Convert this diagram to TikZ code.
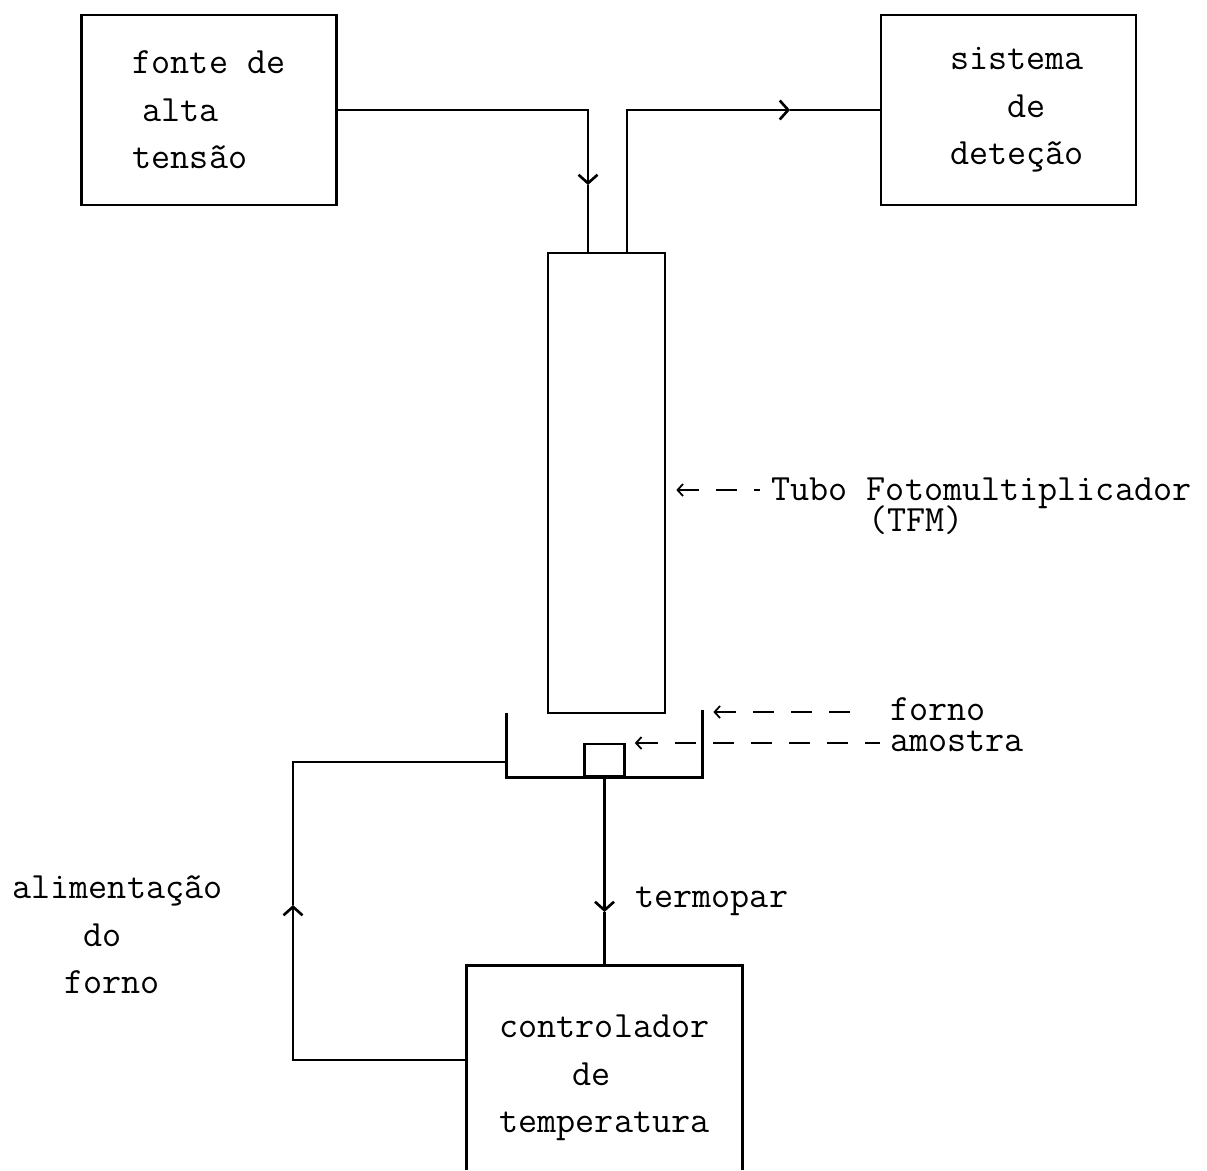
\documentclass[tikz,border=0pt]{standalone}
\usepackage{fontspec}
\usetikzlibrary{arrows.meta}
\usetikzlibrary{positioning}

% indent a line by a number of typewriter characters
\newcommand{\indentby}[1]{\hspace*{#1\fontcharwd\font`x}}

\tikzset{
  block/.style={draw, line width=1.5pt, minimum width=5.1cm, minimum height=3.8cm, align=left},
  wire/.style={line width=1.5pt},
  flowtip/.style={wire, -{Straight Barb[length=0.17cm, width=0.38cm]}},
  pointer/.style={{Straight Barb[length=0.11cm, width=0.24cm]}-, line width=1pt, dash pattern=on 0.42cm off 0.34cm},
  tag/.style={inner sep=0pt, anchor=base west}
}

\begin{document}
\begin{tikzpicture}[font=\ttfamily\fontsize{21.1}{27}\selectfont]
		\useasboundingbox (0,0) rectangle (24.14,-23.4);
		
		%High voltage source
		\node[block] (fonte) at (4.18,-2.2) {fonte de\\\indentby{0.5}alta\\tensão};
		
		%Detection system
		\node[block] (sistema) at (20.17,-2.2) {\indentby{0.9}sistema\\\indentby{3.9}de\\\indentby{0.9}deteção};
		
		%Photomultiplier tube
		\node[draw,
		      line width=1.5pt,
		      minimum width=2.34cm,
		      minimum height=9.2cm] (tubo) at (12.13,-9.66){};
		
		%Furnace with sample
		\node[minimum width=3.9cm, minimum height=1.28cm] (forno) at (12.09,-14.9){};
		\draw[wire] (forno.north west) |- (forno.south east) -- ([yshift=0.06cm]forno.north east);
		\node[draw,
		      line width=1.5pt,
		      minimum width=0.8cm,
		      minimum height=0.64cm,
		      anchor=south] (amostra) at (forno.south){};
		
		%Temperature controller (open at the bottom)
		\node[minimum width=5.5cm, minimum height=4.48cm, align=left] (ctrl) at (12.09,-21.56)
		      {controlador\\\indentby{3.8}de\\temperatura};
		\coordinate (bottom) at (0,-23.4);
		\draw[wire] (ctrl.west |- bottom) |- (ctrl.north east) -- (ctrl.east |- bottom);
		
		%Connections
		\coordinate (hvtip) at (11.76,-3.7);
		\draw[flowtip] (fonte.east) -| (hvtip);
		\draw[wire] (hvtip) -- (hvtip |- tubo.north);
		
		\coordinate (sigtip) at (15.8,-2.2);
		\draw[flowtip] ([xshift=0.41cm]tubo.north) |- (sigtip);
		\draw[wire] (sigtip) -- (sistema.west);
		
		\coordinate (tctip) at (12.09,-18.24);
		\draw[flowtip] (amostra.south) -- (tctip);
		\draw[wire] (tctip) -- (ctrl.north);
		
		\coordinate (pwtip) at (5.86,-18.1);
		\draw[flowtip] ([yshift=0.36cm]ctrl.west) -| (pwtip);
		\draw[wire] (pwtip) |- ([yshift=-0.34cm]forno.west);
		
		%Labels
		\node[tag] (termopar) at (12.7,-18.14){termopar};
		\node[align=left] (alim) at (2.35,-18.7){alimentação\\\indentby{3.7}do\\\indentby{2.7}forno};
		
		\node[tag] (tfm) at (15.42,-10.0){Tubo Fotomultiplicador};
		\node[tag] (tfmabbr) at (17.36,-10.62){(TFM)};
		\coordinate (tfmtail) at (15.2,-9.8);
		\draw[pointer] ([xshift=0.2cm]tubo.east |- tfmtail) -- (tfmtail);
		
		\node[tag] (fornolbl) at (17.8,-14.4){forno};
		\coordinate (fornotail) at (17.24,-14.24);
		\draw[pointer] ([xshift=0.22cm]forno.north east |- fornotail) -- (fornotail);
		
		\node[tag] (amostralbl) at (17.8,-15.02){amostra};
		\coordinate (amostratail) at (17.6,-14.86);
		\draw[pointer] ([xshift=0.18cm]amostra.east |- amostratail) -- (amostratail);
	\end{tikzpicture}
\end{document}
